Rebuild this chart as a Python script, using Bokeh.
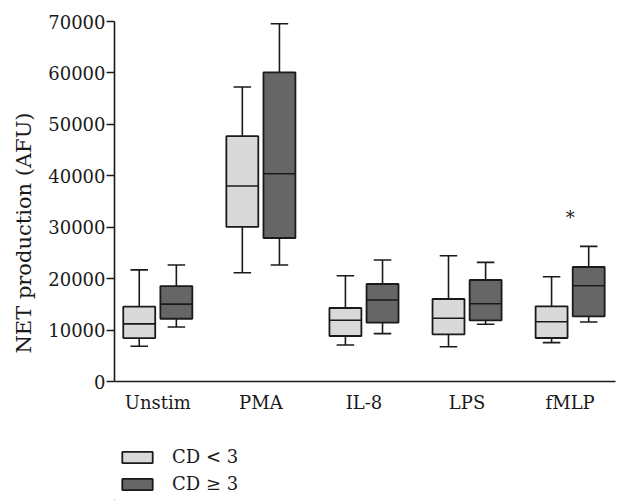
from bokeh.plotting import figure
from bokeh.layouts import column
from bokeh.models import Range1d, FixedTicker, Legend, LegendItem, ColumnDataSource, Title
from bokeh.core.properties import value
from bokeh.embed import file_html
from bokeh.resources import INLINE

categories = ["Unstim", "PMA", "IL-8", "LPS", "fMLP"]
# CD < 3
low_lower = [6850, 21150, 7100, 6770, 7550]
low_q1 = [8450, 30050, 8850, 9180, 8460]
low_med = [11200, 38000, 11900, 12290, 11630]
low_q3 = [14550, 47700, 14290, 16040, 14620]
low_upper = [21700, 57250, 20570, 24460, 20380]
# CD >= 3
high_lower = [10600, 22650, 9300, 11120, 11570]
high_q1 = [12200, 27900, 11440, 11900, 12680]
high_med = [15050, 40400, 15850, 15130, 18630]
high_q3 = [18550, 60100, 18960, 19740, 22260]
high_upper = [22650, 69550, 23620, 23170, 26280]
series_labels = ["CD < 3", "CD \u2265 3"]
y_ticks = [0, 10000, 20000, 30000, 40000, 50000, 60000, 70000]
y_title = "NET production (AFU)"
star_category = "fMLP"
star_y = 31800

FONT = "DejaVu Serif"
INK = "#1a1a1a"
colors = ["#d9d9d9", "#666666"]

p = figure(output_backend="svg", toolbar_location=None,
           frame_width=501, frame_height=360,
           min_border_left=114, min_border_top=21, min_border_right=10,
           min_border_bottom=49,
           x_range=Range1d(0.58, 5.44), y_range=Range1d(0, 70000))
p.background_fill_color = "white"
p.outline_line_color = None
p.xgrid.visible = False
p.ygrid.visible = False

pos = list(range(1, len(categories) + 1))
box_w = 0.31
cap_w = 0.17
offs = [-0.18, 0.18]

for k, (lo, q1, md, q3, up) in enumerate([
        (low_lower, low_q1, low_med, low_q3, low_upper),
        (high_lower, high_q1, high_med, high_q3, high_upper)]):
    xs = [x + offs[k] for x in pos]
    src = ColumnDataSource(dict(x=xs, lo=lo, q1=q1, md=md, q3=q3, up=up,
                                cl=[x - cap_w / 2 for x in xs],
                                cr=[x + cap_w / 2 for x in xs],
                                bl=[x - box_w / 2 for x in xs],
                                br=[x + box_w / 2 for x in xs]))
    p.segment(x0="x", y0="q3", x1="x", y1="up", source=src, line_color=INK, line_width=1.6)
    p.segment(x0="x", y0="q1", x1="x", y1="lo", source=src, line_color=INK, line_width=1.6)
    p.segment(x0="cl", y0="up", x1="cr", y1="up", source=src, line_color=INK, line_width=1.6)
    p.segment(x0="cl", y0="lo", x1="cr", y1="lo", source=src, line_color=INK, line_width=1.6)
    p.vbar(x="x", width=box_w, bottom="q1", top="q3", source=src,
           fill_color=colors[k], line_color=INK, line_width=1.8)
    p.segment(x0="bl", y0="md", x1="br", y1="md", source=src, line_color=INK, line_width=1.6)

star_x = pos[categories.index(star_category)]
p.text(x=[star_x], y=[star_y], text=["*"], text_font=value(FONT),
       text_font_size="18px", text_align="center", text_baseline="middle",
       text_color=INK)

p.xaxis.ticker = FixedTicker(ticks=pos)
p.xaxis.major_label_overrides = {x: c for x, c in zip(pos, categories)}
p.xaxis.minor_tick_line_color = None
p.xaxis.major_label_standoff = 4
p.yaxis.ticker = FixedTicker(ticks=y_ticks)
p.yaxis.minor_tick_line_color = None
p.yaxis.major_tick_out = 8
p.yaxis.major_tick_in = 0
p.yaxis.major_label_standoff = 1
for ax in (p.xaxis, p.yaxis):
    ax.axis_line_color = INK
    ax.axis_line_width = 1.6
    ax.major_tick_line_width = 1.6
    ax.major_label_text_font = FONT
    ax.major_label_text_font_size = "18px"
    ax.major_label_text_color = INK
p.yaxis.major_tick_line_color = INK
p.xaxis.major_tick_line_color = None

ytitle = Title(text=y_title, align="left", offset=28, standoff=19,
               text_font=FONT, text_font_size="21px", text_font_style="normal",
               text_color=INK)
p.add_layout(ytitle, "left")

# legend strip below the chart (swatch renderers sit outside the strip's ranges)
p2 = figure(output_backend="svg", toolbar_location=None,
            frame_width=501, frame_height=70,
            min_border_left=114, min_border_right=10, min_border_top=0, min_border_bottom=0,
            x_range=Range1d(0, 1), y_range=Range1d(0, 1),
            x_axis_type=None, y_axis_type=None)
p2.outline_line_color = None
p2.xgrid.visible = False
p2.ygrid.visible = False
swatches = [p2.vbar(x=[-5], bottom=[-5], top=[-4], width=0.1,
                    fill_color=colors[i], line_color=INK, line_width=1.8)
            for i in range(2)]
legend = Legend(items=[LegendItem(label=series_labels[i], renderers=[swatches[i]]) for i in range(2)],
                location=(4, 6), orientation="vertical",
                glyph_width=38, glyph_height=14, label_height=20, spacing=6,
                label_standoff=16, padding=5, margin=0,
                label_text_font=FONT, label_text_font_size="18px", label_text_color=INK,
                border_line_color=None, background_fill_alpha=0)
p2.add_layout(legend)

layout = column(p, p2, spacing=0)
open("out.html", "w").write(file_html(layout, INLINE))
